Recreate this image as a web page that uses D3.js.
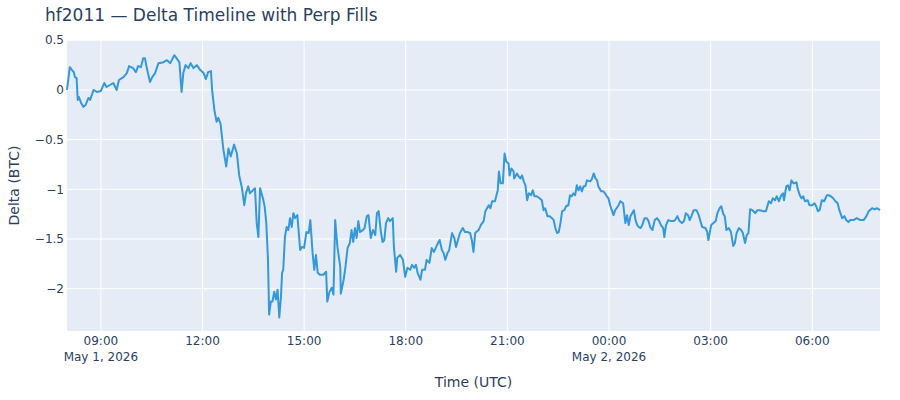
<!DOCTYPE html>
<html lang="en">
<head>
  <meta charset="UTF-8">
  <title>hf2011 Delta Timeline</title>
  <script src="https://d3js.org/d3.v7.min.js"></script>
  <style>
    body { margin: 0; background: #fff; }
    text { font-family: verdana, "DejaVu Sans", arial, sans-serif; fill: #2a3f5f; }
    .grid-line { stroke: #fff; stroke-width: 1; }
  </style>
</head>
<body>
<script>
  // Data: minutes since 2026-05-01 08:00 UTC, delta in BTC
  const minutes = [
    0, 5, 9, 12, 14, 17, 19, 21, 25, 29, 33, 38, 41, 47, 53, 60, 66, 70, 76, 82,
    88, 92, 100, 106, 110, 117, 122, 126, 131, 135, 138, 141, 147, 151, 156, 162, 171, 177, 183, 190,
    194, 199, 203, 206, 210, 215, 219, 224, 230, 236, 242, 246, 250, 255, 257, 261, 265, 268, 272, 277,
    282, 286, 290, 296, 301, 305, 310, 314, 317, 321, 324, 329, 333, 336, 339, 342, 347, 350, 353, 356,
    358, 361, 364, 367, 370, 373, 376, 379, 381, 383, 386, 389, 392, 395, 398, 401, 404, 408, 413, 416,
    420, 424, 428, 431, 435, 438, 441, 444, 448, 454, 459, 461, 465, 469, 472, 475, 479, 484, 485, 490,
    493, 497, 501, 504, 507, 510, 513, 516, 519, 524, 527, 531, 534, 538, 542, 546, 549, 552, 556, 559,
    562, 565, 569, 572, 577, 579, 583, 585, 590, 595, 599, 603, 608, 611, 615, 618, 621, 626, 629, 634,
    637, 642, 646, 650, 654, 658, 660, 664, 667, 670, 674, 677, 682, 686, 689, 691, 696, 701, 705, 709,
    714, 717, 720, 723, 729, 733, 738, 741, 747, 750, 753, 758, 763, 765, 768, 772, 775, 778, 782, 784,
    787, 791, 792, 797, 800, 803, 806, 809, 812, 815, 818, 822, 825, 828, 832, 837, 841, 844, 847, 851,
    855, 859, 862, 865, 868, 871, 874, 877, 881, 884, 888, 891, 894, 897, 900, 903, 906, 909, 912, 915,
    918, 921, 927, 930, 933, 936, 939, 941, 946, 950, 953, 956, 959, 962, 965, 968, 971, 977, 980, 985,
    989, 992, 995, 998, 1001, 1004, 1007, 1010, 1013, 1016, 1019, 1023, 1027, 1030, 1033, 1037, 1041, 1045, 1049, 1052,
    1056, 1058, 1061, 1065, 1070, 1074, 1077, 1081, 1085, 1089, 1093, 1096, 1100, 1103, 1106, 1110, 1115, 1119, 1122, 1125,
    1131, 1134, 1136, 1141, 1145, 1149, 1152, 1156, 1159, 1162, 1165, 1168, 1172, 1176, 1180, 1183, 1186, 1190, 1194, 1197,
    1201, 1204, 1207, 1210, 1214, 1219, 1223, 1227, 1234, 1238, 1243, 1247, 1250, 1254, 1257, 1261, 1265, 1268, 1270, 1274,
    1277, 1280, 1283, 1287, 1292, 1294, 1298, 1301, 1304, 1307, 1312, 1315, 1320, 1324, 1327, 1330, 1333, 1337, 1341, 1346,
    1349, 1353, 1357, 1361, 1365, 1368, 1373, 1377, 1380, 1384, 1387, 1393, 1399, 1405, 1411, 1416, 1420, 1426, 1430, 1435,
    1440
  ];
  const delta = [
    0.00, 0.23, 0.20, 0.18, 0.13, 0.12, -0.10, -0.07, -0.13, -0.17, -0.15, -0.08, -0.10, 0.00, -0.02, -0.01, 0.07, 0.03, 0.05, 0.07,
    0.00, 0.10, 0.13, 0.17, 0.24, 0.22, 0.18, 0.24, 0.23, 0.32, 0.32, 0.23, 0.08, 0.13, 0.17, 0.27, 0.28, 0.30, 0.27, 0.35,
    0.32, 0.28, -0.02, 0.17, 0.25, 0.22, 0.27, 0.22, 0.25, 0.20, 0.17, 0.11, 0.18, 0.19, 0.00, -0.20, -0.32, -0.28, -0.34, -0.60,
    -0.77, -0.59, -0.67, -0.55, -0.64, -0.86, -0.99, -1.16, -1.04, -0.97, -1.04, -1.01, -0.99, -1.34, -1.48, -0.99, -1.09, -1.17, -1.34, -1.71,
    -2.26, -2.13, -2.13, -2.03, -2.11, -2.01, -2.29, -2.08, -1.84, -1.81, -1.48, -1.38, -1.41, -1.29, -1.38, -1.24, -1.29, -1.26, -1.61, -1.58,
    -1.59, -1.43, -1.44, -1.31, -1.64, -1.81, -1.66, -1.84, -1.86, -1.86, -1.83, -2.13, -2.03, -1.99, -2.06, -1.31, -1.58, -1.78, -2.05, -1.91,
    -1.79, -1.59, -1.54, -1.41, -1.53, -1.39, -1.49, -1.32, -1.43, -1.41, -1.39, -1.27, -1.26, -1.49, -1.41, -1.46, -1.24, -1.22, -1.43, -1.53,
    -1.51, -1.34, -1.29, -1.32, -1.29, -1.58, -1.83, -1.69, -1.66, -1.71, -1.88, -1.79, -1.81, -1.76, -1.79, -1.76, -1.84, -1.91, -1.81, -1.81,
    -1.71, -1.74, -1.59, -1.63, -1.58, -1.53, -1.51, -1.61, -1.64, -1.71, -1.64, -1.61, -1.44, -1.49, -1.58, -1.54, -1.44, -1.39, -1.43, -1.43,
    -1.44, -1.51, -1.63, -1.44, -1.41, -1.36, -1.32, -1.22, -1.16, -1.19, -1.12, -1.12, -1.01, -0.82, -0.94, -0.94, -0.64, -0.72, -0.74, -0.86,
    -0.79, -0.82, -0.89, -0.84, -0.87, -0.89, -0.86, -0.92, -0.96, -1.11, -1.04, -1.06, -1.01, -1.07, -1.07, -1.09, -1.11, -1.21, -1.19, -1.27,
    -1.27, -1.29, -1.31, -1.39, -1.44, -1.43, -1.34, -1.22, -1.21, -1.17, -1.16, -1.06, -1.07, -1.04, -1.06, -0.96, -1.01, -0.97, -1.02, -0.97,
    -0.97, -0.91, -0.92, -0.89, -0.84, -0.89, -0.91, -0.97, -1.02, -1.02, -1.04, -1.07, -1.09, -1.16, -1.21, -1.26, -1.21, -1.16, -1.12, -1.14,
    -1.34, -1.26, -1.36, -1.27, -1.24, -1.21, -1.31, -1.36, -1.38, -1.39, -1.36, -1.29, -1.29, -1.32, -1.38, -1.41, -1.31, -1.29, -1.32, -1.36,
    -1.39, -1.48, -1.36, -1.31, -1.32, -1.32, -1.31, -1.27, -1.32, -1.34, -1.32, -1.24, -1.26, -1.31, -1.27, -1.21, -1.21, -1.26, -1.32, -1.38,
    -1.39, -1.43, -1.51, -1.36, -1.34, -1.32, -1.24, -1.19, -1.17, -1.24, -1.27, -1.41, -1.39, -1.43, -1.57, -1.54, -1.44, -1.39, -1.41, -1.44,
    -1.54, -1.46, -1.44, -1.20, -1.21, -1.24, -1.21, -1.21, -1.22, -1.22, -1.12, -1.14, -1.09, -1.11, -1.07, -1.12, -1.06, -1.04, -1.11, -0.97,
    -0.96, -1.01, -0.91, -0.94, -0.93, -0.99, -1.06, -1.09, -1.07, -1.12, -1.11, -1.16, -1.16, -1.14, -1.17, -1.22, -1.21, -1.11, -1.12, -1.06,
    -1.06, -1.07, -1.09, -1.12, -1.14, -1.21, -1.29, -1.27, -1.31, -1.33, -1.31, -1.31, -1.29, -1.31, -1.31, -1.27, -1.22, -1.19, -1.20, -1.19,
    -1.21
  ];
  const yTicks = [0.5, 0, -0.5, -1, -1.5, -2];

  const width = 900, height = 400;
  const margin = {top: 40, right: 20, bottom: 69, left: 67};
  const start = Date.UTC(2026, 4, 1, 8, 0);

  const data = minutes.map((m, i) => ({t: new Date(start + m * 60000), v: delta[i]}));

  const svg = d3.select('body').append('svg')
    .attr('width', width)
    .attr('height', height);

  const x = d3.scaleUtc()
    .domain(d3.extent(data, d => d.t))
    .range([margin.left, width - margin.right]);

  const y = d3.scaleLinear()
    .domain([-2.426, 0.503])
    .range([height - margin.bottom, margin.top]);

  // Plot background
  svg.append('rect')
    .attr('x', margin.left)
    .attr('y', margin.top)
    .attr('width', width - margin.left - margin.right)
    .attr('height', height - margin.top - margin.bottom)
    .attr('fill', '#E5ECF6');

  const xTicks = x.ticks(d3.utcHour.every(3));

  svg.selectAll('.xgrid')
    .data(xTicks)
    .join('line')
    .attr('class', 'grid-line')
    .attr('x1', d => x(d)).attr('x2', d => x(d))
    .attr('y1', margin.top).attr('y2', height - margin.bottom);

  svg.selectAll('.ygrid')
    .data(yTicks)
    .join('line')
    .attr('class', 'grid-line')
    .attr('x1', margin.left).attr('x2', width - margin.right)
    .attr('y1', d => y(d)).attr('y2', d => y(d))
    .attr('stroke-width', d => d === 0 ? 2 : 1);

  // Delta line
  const line = d3.line()
    .x(d => x(d.t))
    .y(d => y(d.v));

  svg.append('path')
    .datum(data)
    .attr('d', line)
    .attr('fill', 'none')
    .attr('stroke', '#3498db')
    .attr('stroke-width', 2)
    .attr('stroke-linejoin', 'round');

  // Y tick labels
  const fmtY = d3.format('~g');
  svg.selectAll('.ylab')
    .data(yTicks)
    .join('text')
    .attr('x', margin.left - 3)
    .attr('y', d => y(d))
    .attr('dy', '0.35em')
    .attr('text-anchor', 'end')
    .style('font-size', '12px')
    .text(d => fmtY(d));

  // X tick labels, date under first tick and at midnight
  const fmtH = d3.utcFormat('%H:%M');
  const fmtD = d3.utcFormat('%b %-d, %Y');
  svg.selectAll('.xlab')
    .data(xTicks)
    .join('text')
    .attr('x', d => x(d))
    .attr('y', height - margin.bottom + 14)
    .attr('text-anchor', 'middle')
    .style('font-size', '12px')
    .text(d => fmtH(d));

  svg.selectAll('.xdate')
    .data(xTicks.filter((d, i) => i === 0 || d.getUTCHours() === 0))
    .join('text')
    .attr('x', d => x(d))
    .attr('y', height - margin.bottom + 30)
    .attr('text-anchor', 'middle')
    .style('font-size', '12px')
    .text(d => fmtD(d));

  // Titles
  svg.append('text')
    .attr('x', 45)
    .attr('y', 21)
    .style('font-size', '17px')
    .text('hf2011 — Delta Timeline with Perp Fills');

  svg.append('text')
    .attr('x', margin.left + (width - margin.left - margin.right) / 2)
    .attr('y', 387)
    .attr('text-anchor', 'middle')
    .style('font-size', '14px')
    .text('Time (UTC)');

  svg.append('text')
    .attr('transform', `rotate(-90) translate(${-(margin.top + (height - margin.top - margin.bottom) / 2)}, 19)`)
    .attr('text-anchor', 'middle')
    .style('font-size', '14px')
    .text('Delta (BTC)');
</script>
</body>
</html>
